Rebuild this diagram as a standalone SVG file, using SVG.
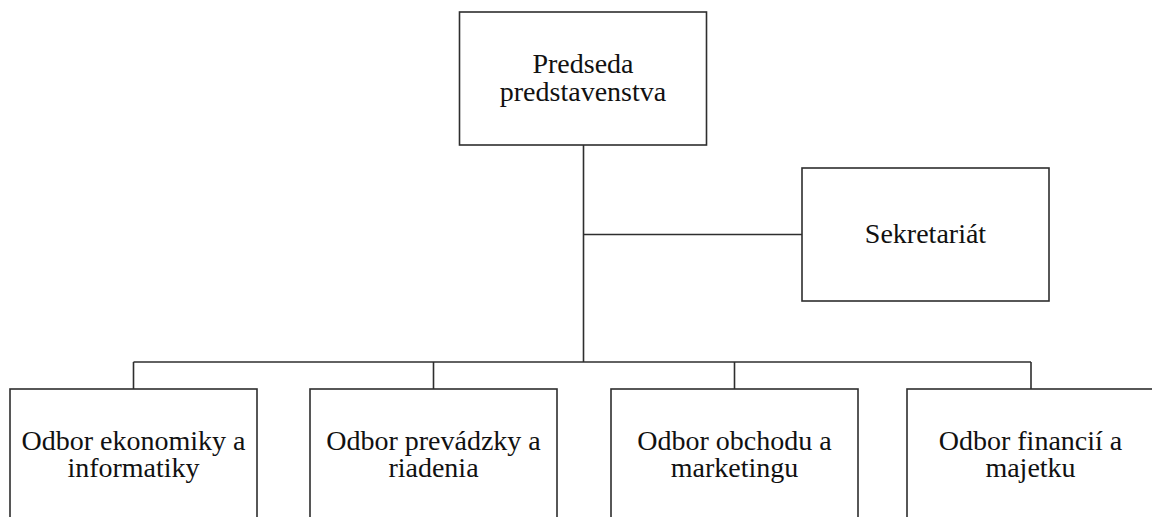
<svg xmlns="http://www.w3.org/2000/svg" width="1152" height="517" viewBox="0 0 1152 517">
<style>
.box{fill:#fff;stroke:#2e2e2e;stroke-width:1.6}
.ln{fill:none;stroke:#2e2e2e;stroke-width:1.6}
.t{font-family:'Liberation Serif','Times New Roman',serif;font-size:28px;fill:#111;text-anchor:middle}
</style>
<rect width="1152" height="517" fill="#fff"/>
<g id="connectors">
<line class="ln" x1="583.5" y1="145" x2="583.5" y2="362"/>
<line class="ln" x1="583.5" y1="234.5" x2="802" y2="234.5"/>
<line class="ln" x1="133.5" y1="362" x2="1031" y2="362"/>
<line class="ln" x1="133.5" y1="362" x2="133.5" y2="389"/>
<line class="ln" x1="433.5" y1="362" x2="433.5" y2="389"/>
<line class="ln" x1="734.5" y1="362" x2="734.5" y2="389"/>
<line class="ln" x1="1031" y1="362" x2="1031" y2="389"/>
</g>
<g id="predseda">
<rect class="box" x="459.5" y="12" width="247" height="133"/>
<text class="t" x="583" y="73">Predseda<tspan x="583" dy="27.5">predstavenstva</tspan></text>
</g>
<g id="sekretariat">
<rect class="box" x="802" y="168" width="247" height="133"/>
<text class="t" x="925.5" y="243">Sekretariát</text>
</g>
<g id="odbor-ekonomiky">
<rect class="box" x="10" y="389" width="247" height="140"/>
<text class="t" x="133.5" y="449.5">Odbor ekonomiky a<tspan x="133.5" dy="27.5">informatiky</tspan></text>
</g>
<g id="odbor-prevadzky">
<rect class="box" x="310" y="389" width="247" height="140"/>
<text class="t" x="433.5" y="449.5">Odbor prevádzky a<tspan x="433.5" dy="27.5">riadenia</tspan></text>
</g>
<g id="odbor-obchodu">
<rect class="box" x="611" y="389" width="247" height="140"/>
<text class="t" x="734.5" y="449.5">Odbor obchodu a<tspan x="734.5" dy="27.5">marketingu</tspan></text>
</g>
<g id="odbor-financii">
<rect class="box" x="907" y="389" width="247" height="140"/>
<text class="t" x="1030.5" y="449.5">Odbor financií a<tspan x="1030.5" dy="27.5">majetku</tspan></text>
</g>
</svg>
